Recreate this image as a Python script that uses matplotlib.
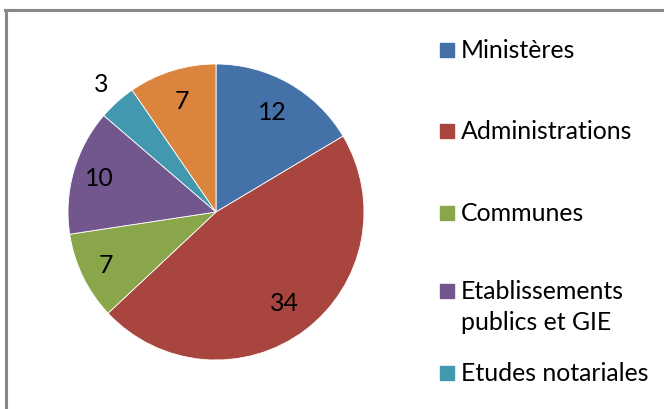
import numpy as np
import matplotlib
matplotlib.use("Agg")
import matplotlib.pyplot as plt
from matplotlib.patches import Rectangle
from matplotlib.lines import Line2D

categories = ["Ministères", "Administrations", "Communes",
              "Etablissements\npublics et GIE", "Etudes notariales", "Autres"]
values = [12, 34, 7, 10, 3, 7]
colors = ["#4472A8", "#A8453F", "#8AA64A", "#72578E", "#4198AF", "#DB843D"]
label_dist = [0.77, 0.77, 0.83, 0.82, 1.16, 0.78]

plt.rcParams['font.family'] = ['Lato', 'DejaVu Sans']
W, H = 664, 409
FS = 17.9
fig = plt.figure(figsize=(W / 100, H / 100), dpi=100)

def fx(x): return x / W
def fy(y): return 1 - y / H

# border
fig.add_artist(Line2D([fx(6), fx(6)], [fy(9.5), fy(420)], color="#878787", lw=2.2))
fig.add_artist(Line2D([fx(5), fx(670)], [fy(9.5), fy(9.5)], color="#878787", lw=2.2))

cx, cy, r = 216, 212, 148
ax = fig.add_axes([fx(cx - r), fy(cy + r), (2 * r) / W, (2 * r) / H])
wedges, _ = ax.pie(values, colors=colors, startangle=90, counterclock=False,
                   radius=1, wedgeprops=dict(linewidth=0.6, edgecolor="white"))
ax.set_xlim(-1, 1)
ax.set_ylim(-1, 1)
ax.set_aspect('auto')
ax.axis('off')

total = sum(values)
ang = 90
for v, d in zip(values, label_dist):
    span = 360 * v / total
    mid = np.deg2rad(ang - span / 2)
    ax.text(d * np.cos(mid), d * np.sin(mid), str(v), ha='center', va='center',
            fontsize=FS, color='black')
    ang -= span

# legend (baselines in pixels; last entry falls below the visible canvas)
leg_base = [58, 139, 221, 299, 381, 462]
line_gap = 31
for cat, col, yb in zip(categories, colors, leg_base):
    if yb > H:
        continue
    fig.add_artist(Rectangle((fx(440), fy(yb - 1)), 14 / W, 14 / H, color=col,
                             transform=fig.transFigure))
    for i, line in enumerate(cat.split("\n")):
        fig.text(fx(461), fy(yb + i * line_gap), line, ha='left', va='baseline',
                 fontsize=FS, color='black')

fig.savefig("out.png", dpi=100)
